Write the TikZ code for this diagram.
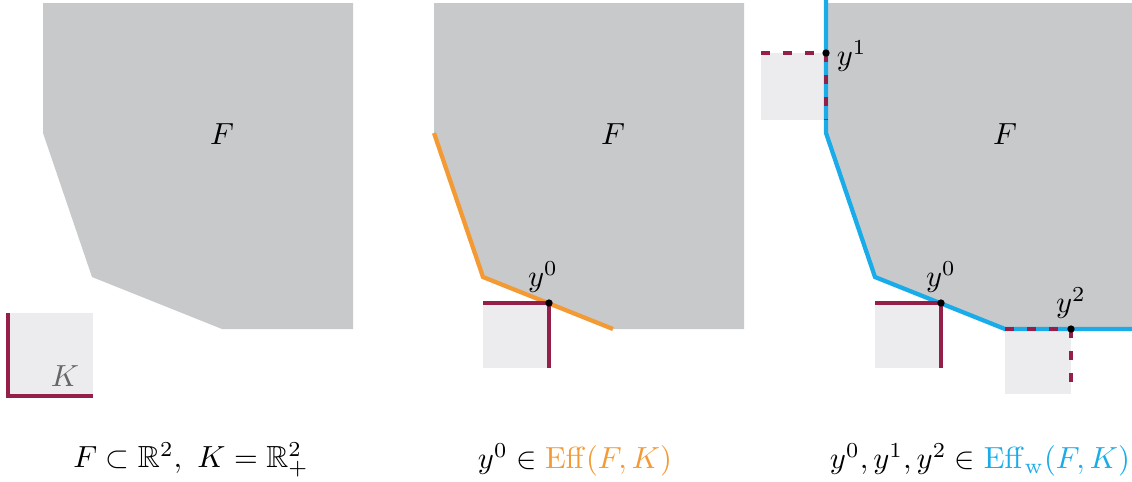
\documentclass[tikz,border=0pt]{standalone}
\usepackage{amsmath}
\usepackage{amssymb}
\usetikzlibrary{positioning}
\definecolor{setgray}{RGB}{200,201,203}
\definecolor{conegray}{RGB}{236,236,238}
\definecolor{conered}{RGB}{148,32,74}
\definecolor{efforange}{RGB}{244,154,52}
\definecolor{effblue}{RGB}{26,172,232}
\tikzstyle{setF} = [fill=setgray, draw=none]
\tikzstyle{cone} = [fill=conegray, draw=none]
\tikzstyle{coneedge} = [line width=1.4pt, draw=conered]
\tikzstyle{coneweak} = [line width=1.4pt, draw=conered, dash pattern=on 3pt off 4.2pt]
\tikzstyle{effline} = [line width=1.4pt, line join=miter]
\tikzstyle{dot} = [circle, fill=black, inner sep=0pt, minimum size=2.4pt]

\begin{document}
\begin{tikzpicture}[x=0.0115cm, y=-0.0115cm]
\useasboundingbox (0,0) rectangle (1132,481);
\clip (0,0) rectangle (1132,481);
% the three copies of F
\foreach \dx in {0,391,783}
  \fill[setF] (43+\dx,3) -- (353+\dx,3) -- (353+\dx,329) -- (222+\dx,329)
    -- (92+\dx,277) -- (43+\dx,133) -- cycle;
% panel 1: the cone K
\coordinate (k1) at (8,313);
\coordinate (k2) at (8,396);
\coordinate (k3) at (93,396);
\fill[cone] (8,313) rectangle (93,396);
\draw[coneedge] (k1) -- (k2) -- (k3);
\node (F1) at (222,134) {$F$};
\node (lK) at (65,376) [text=black!60] {$K$};
% panel 2: efficient point
\coordinate (p0b) at (549,303);
\coordinate (q0b) at (483,303);
\coordinate (r0b) at (549,368);
\coordinate (e1) at (434,133);
\coordinate (e2) at (483,277);
\coordinate (e3) at (613,329);
\fill[cone] (483,303) rectangle (549,368);
\draw[effline, efforange] (e1) -- (e2) -- (e3);
\draw[coneedge] (q0b) -- (p0b) -- (r0b);
\node (F2) at (613,134) {$F$};
% panel 3: weakly efficient points
\coordinate (p1) at (826,53);
\coordinate (q1) at (761,53);
\coordinate (r1) at (826,120);
\coordinate (p0c) at (941,303);
\coordinate (q0c) at (875,303);
\coordinate (r0c) at (941,368);
\coordinate (p2) at (1071,329);
\coordinate (q2) at (1005,329);
\coordinate (r2) at (1071,394);
\coordinate (w1) at (826,0);
\coordinate (w2) at (826,133);
\coordinate (w3) at (875,277);
\coordinate (w4) at (1005,329);
\coordinate (w5) at (1136,329);
\fill[cone] (761,53) rectangle (826,120);
\fill[cone] (875,303) rectangle (941,368);
\fill[cone] (1005,329) rectangle (1071,394);
\draw[effline, effblue] (w1) -- (w2) -- (w3) -- (w4) -- (w5);
\draw[coneweak] (q1) -- (p1);
\draw[coneweak] (p1) -- (r1);
\draw[coneedge] (q0c) -- (p0c) -- (r0c);
\draw[coneweak] (q2) -- (p2);
\draw[coneweak] (p2) -- (r2);
\node (F3) at (1005,134) {$F$};
% the points and their names
\foreach \p in {p0b,p0c,p1,p2}
  \node[dot] at (\p) {};
\node (ly0b) [above=0pt of p0b, xshift=-2pt] {$y^0$};
\node (ly0c) [above=0pt of p0c] {$y^0$};
\node (ly1) [right=0pt of p1, yshift=-1pt] {$y^1$};
\node (ly2) [above=0pt of p2] {$y^2$};
% captions
\node (c1) at (191,460) {$F\subset\mathbb{R}^2,\ K=\mathbb{R}^2_+$};
\node (c2) at (575,460) {$y^0\in\textcolor{efforange}{\mathrm{Eff}(F,K)}$};
\node (c3) at (980,460) {$y^0,y^1,y^2\in\textcolor{effblue}{\mathrm{Eff}_{\mathrm{w}}(F,K)}$};
\end{tikzpicture}
\end{document}
